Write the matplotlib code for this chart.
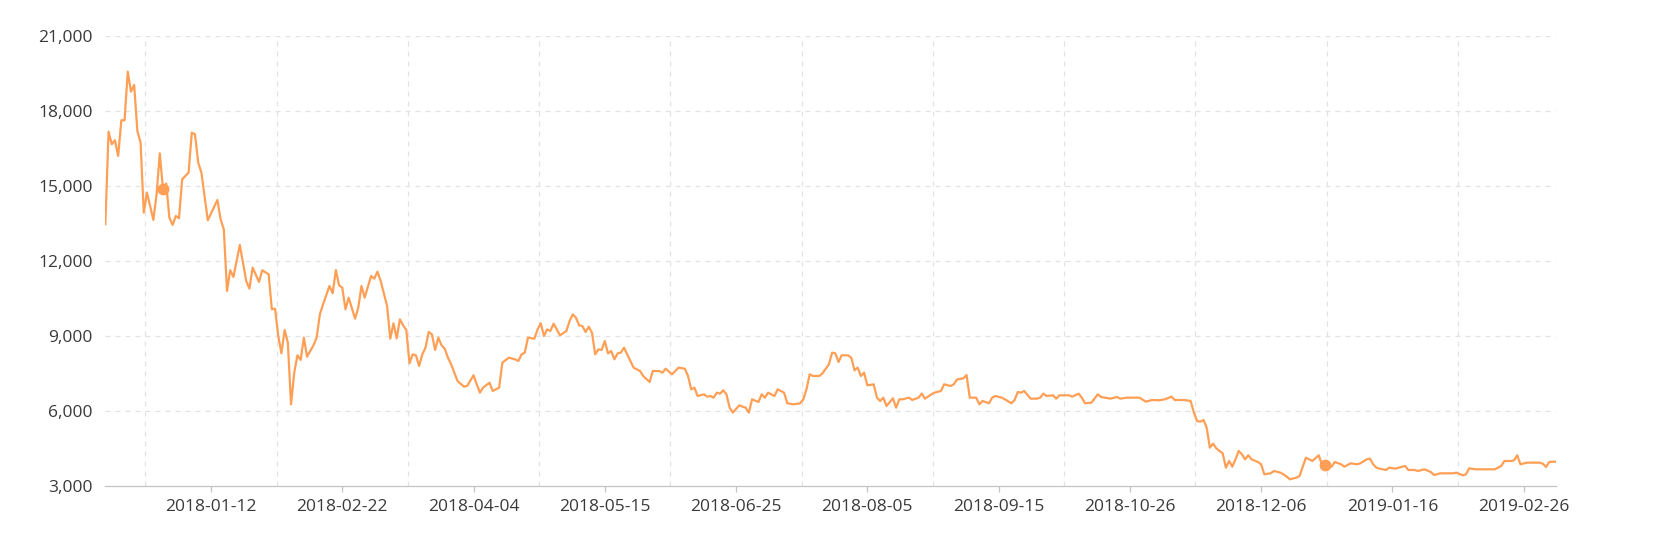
import matplotlib
matplotlib.use("Agg")
import matplotlib.pyplot as plt
import pandas as pd

# days counted from the first date of the series (daily data, 2017-12-10 .. 2019-03-08)
start = "2017-12-10"
last_day = 453
days = [0, 1, 2, 3, 4, 5, 6, 7, 8, 9, 10, 11, 12, 13, 15, 16, 17, 18, 19, 20,
        21, 22, 23, 24, 26, 27, 28, 29, 30, 32, 35, 36, 37, 38, 39, 40, 42, 44, 45, 46,
        48, 49, 51, 52, 53, 54, 55, 56, 57, 58, 59, 60, 61, 62, 63, 65, 66, 67, 68, 70,
        71, 72, 73, 74, 75, 76, 78, 79, 80, 81, 83, 84, 85, 86, 88, 89, 90, 91, 92, 93,
        94, 95, 96, 97, 98, 99, 100, 101, 102, 103, 104, 105, 106, 107, 108, 110, 112, 113, 115, 116,
        117, 118, 120, 121, 123, 124, 126, 128, 129, 130, 131, 132, 134, 135, 136, 137, 138, 139, 140, 141,
        142, 144, 145, 146, 147, 148, 149, 150, 151, 152, 153, 154, 155, 156, 157, 158, 159, 160, 161, 162,
        163, 165, 167, 168, 170, 171, 173, 174, 175, 177, 179, 181, 182, 183, 184, 185, 187, 188, 189, 190,
        191, 192, 193, 194, 195, 196, 198, 199, 200, 201, 202, 204, 205, 206, 207, 209, 210, 212, 213, 215,
        217, 218, 219, 220, 221, 223, 224, 226, 227, 228, 229, 230, 232, 233, 234, 235, 236, 237, 238, 240,
        241, 242, 243, 244, 246, 247, 248, 249, 251, 252, 254, 255, 256, 258, 259, 261, 262, 264, 265, 266,
        268, 269, 270, 271, 272, 273, 274, 276, 277, 278, 280, 281, 283, 284, 285, 286, 287, 289, 291, 292,
        293, 294, 296, 297, 298, 301, 302, 304, 305, 306, 308, 310, 311, 314, 316, 317, 319, 321, 323, 325,
        327, 329, 331, 333, 334, 337, 339, 340, 341, 342, 343, 344, 345, 346, 347, 348, 349, 350, 351, 352,
        353, 354, 355, 356, 357, 358, 360, 361, 362, 364, 365, 367, 368, 369, 370, 372, 373, 374, 375, 376,
        377, 379, 380, 381, 382, 383, 384, 386, 387, 389, 391, 392, 394, 395, 396, 397, 398, 400, 401, 403,
        404, 406, 407, 409, 410, 412, 414, 415, 417, 419, 421, 422, 424, 425, 426, 428, 430, 432, 434, 436,
        437, 439, 440, 441, 442, 444, 446, 448, 449, 450, 451, 453]
price = [13470, 17175, 16669, 16829, 16202, 17629, 17629, 19575, 18775, 19042, 17202, 16735, 13936, 14736, 13643, 14668, 16309, 14869, 15096, 13736,
         13443, 13802, 13709, 15269, 15536, 17135, 17069, 15936, 15536, 13629, 14442, 13669, 13270, 10803, 11630, 11363, 12643, 11203, 10897, 11737,
         11163, 11630, 11467, 10068, 10094, 9000, 8308, 9241, 8734, 6268, 7535, 8228, 8041, 8934, 8174, 8628, 8934, 9868, 10268, 11001,
         10708, 11641, 11028, 10934, 10068, 10534, 9694, 10134, 11001, 10534, 11401, 11294, 11574, 11201, 10201, 8894, 9508, 8908, 9668, 9428,
         9241, 7908, 8268, 8228, 7801, 8268, 8534, 9161, 9068, 8441, 8934, 8628, 8494, 8134, 7868, 7201, 6975, 7001, 7428, 7068,
         6735, 6935, 7134, 6801, 6934, 7933, 8133, 8066, 8000, 8266, 8333, 8933, 8893, 9266, 9506, 9000, 9266, 9200, 9493, 9266,
         9026, 9200, 9600, 9866, 9733, 9426, 9400, 9160, 9373, 9133, 8266, 8466, 8440, 8800, 8306, 8400, 8066, 8306, 8333, 8533,
         8266, 7733, 7600, 7400, 7160, 7600, 7600, 7533, 7693, 7466, 7733, 7693, 7400, 6866, 6933, 6600, 6666, 6573, 6600, 6533,
         6734, 6694, 6828, 6668, 6134, 5935, 6228, 6174, 6134, 5935, 6468, 6361, 6668, 6534, 6734, 6601, 6868, 6734, 6308, 6268,
         6308, 6468, 6868, 7468, 7401, 7401, 7508, 7868, 8334, 8308, 7961, 8228, 8228, 8134, 7628, 7734, 7401, 7534, 7028, 7068,
         6534, 6401, 6534, 6201, 6508, 6134, 6468, 6468, 6534, 6441, 6534, 6694, 6494, 6668, 6734, 6801, 7068, 7001, 7067, 7260,
         7307, 7441, 6534, 6534, 6534, 6268, 6401, 6308, 6534, 6601, 6534, 6468, 6308, 6441, 6761, 6734, 6801, 6494, 6494, 6534,
         6694, 6601, 6628, 6494, 6628, 6628, 6574, 6694, 6534, 6308, 6334, 6668, 6561, 6494, 6561, 6494, 6534, 6534, 6534, 6374,
         6441, 6428, 6468, 6574, 6441, 6441, 6400, 5934, 5601, 5574, 5641, 5334, 4534, 4694, 4508, 4401, 4308, 3734, 4001, 3774,
         4068, 4401, 4268, 4068, 4228, 4068, 3961, 3868, 3468, 3508, 3601, 3534, 3468, 3374, 3268, 3334, 3401, 3774, 4134, 4068,
         4001, 4228, 3868, 3828, 3774, 3774, 3961, 3868, 3774, 3908, 3868, 3908, 4068, 4094, 3868, 3734, 3694, 3641, 3734, 3694,
         3734, 3801, 3641, 3641, 3601, 3668, 3561, 3441, 3508, 3508, 3508, 3534, 3428, 3468, 3708, 3668, 3668, 3668, 3668, 3801,
         4001, 4001, 4028, 4228, 3868, 3934, 3934, 3934, 3894, 3761, 3961, 3974]
dot_days = [18, 381]

label_days = list(range(33, last_day, 41))
grid_days = [d - 20.5 for d in label_days]
label_text = [(pd.Timestamp(start) + pd.Timedelta(days=d)).strftime("%Y-%m-%d") for d in label_days]
yticks = [3000, 6000, 9000, 12000, 15000, 18000, 21000]

plt.rcParams['font.family'] = ['Open Sans', 'DejaVu Sans']
plt.rcParams['lines.scale_dashes'] = False

fig = plt.figure(figsize=(16.67, 5.44), dpi=100, facecolor="white")
ax = fig.add_axes([0.0632, 0.1066, 0.870, 0.8272])

grid_kw = dict(color="#E3E3E3", lw=0.9, ls=(0, (3.6, 3.6)), zorder=0)
for v in yticks[1:]:
    ax.axhline(v, **grid_kw)
for d in grid_days:
    ax.axvline(d, **grid_kw)

ax.plot(days, price, color="#FF9F55", lw=1.6, solid_joinstyle="round", zorder=3)
dot_vals = [price[days.index(d)] for d in dot_days]
ax.plot(dot_days, dot_vals, "o", color="#FF9F55", ms=7.5, zorder=4)

ax.set_xlim(0, last_day)
ax.set_ylim(3000, 21000)
ax.set_yticks(yticks)
ax.set_yticklabels([f"{v:,}" for v in yticks])
ax.set_xticks(label_days)
ax.set_xticklabels(label_text)

for s in ["top", "right", "left"]:
    ax.spines[s].set_visible(False)
ax.spines["bottom"].set_color("#C4C4C4")
ax.spines["bottom"].set_linewidth(0.9)
ax.tick_params(axis="y", length=0, pad=9, labelsize=12.5, labelcolor="#3A3A3A")
ax.tick_params(axis="x", length=4, width=0.9, color="#C4C4C4", pad=5, labelsize=12.5, labelcolor="#3A3A3A")

fig.savefig("out.png", dpi=100, facecolor=fig.get_facecolor())
